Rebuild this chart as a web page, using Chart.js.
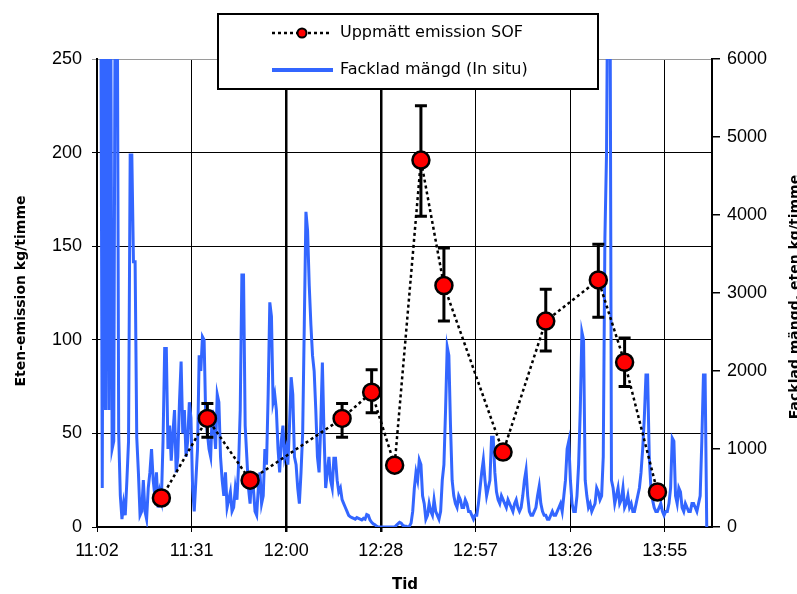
<!DOCTYPE html>
<html>
<head>
<meta charset="utf-8">
<script src="https://cdn.jsdelivr.net/npm/chart.js@4.4.1/dist/chart.umd.min.js"></script>
<style>
  html, body { margin: 0; padding: 0; background: #fff; }
  canvas { display: block; }
</style>
</head>
<body>
<canvas id="sofChart" width="797" height="594"></canvas>
<script>
// Uppmätt emission SOF (kg/timme, vänster axel) med felstaplar
const sofTimes  = ['11:22', '11:36', '11:49', '12:17', '12:26', '12:33', '12:41', '12:48', '13:06', '13:19', '13:35', '13:43', '13:53'];
const sofValues = [15.5, 58, 25, 58, 72, 33, 196, 129, 40, 110, 132, 88, 18.7];
const sofLow    = [null, 48, null, 48, 61, null, 166, 110, null, 94, 112, 75, null];
const sofHigh   = [null, 66, null, 66, 84, null, 225, 149, null, 127, 151, 101, null];

// Facklad mängd in situ (kg/timme, höger axel), ett värde per halvminut från 11:03
const flareStart = '11:03';
const flareStepMin = 0.5;
const flareValues = [
  8000, 8000, 500, 8000, 1500, 8000, 1500, 8000, 1000, 1100,
  8000, 8000, 1200, 400, 100, 300, 150, 600, 1100, 4770,
  4770, 3400, 3400, 1150, 700, 150, 200, 600, 200, 100,
  500, 700, 1000, 600, 400, 700, 250, 450, 350, 1100,
  2290, 2290, 1000, 1300, 850, 1200, 1500, 700, 900, 1600,
  2120, 1200, 1500, 900, 1100, 1600, 1400, 500, 200, 600,
  1000, 2200, 2000, 2440, 2400, 1400, 1200, 1000, 900, 1500,
  1300, 1000, 1700, 1600, 900, 600, 400, 700, 250, 350,
  450, 200, 250, 500, 350, 800, 1500, 3230, 3230, 1300,
  900, 500, 300, 700, 500, 200, 150, 500, 700, 300,
  400, 1000, 800, 1700, 2880, 2700, 1600, 1700, 1500, 1000,
  700, 1100, 1300, 900, 1000, 800, 1300, 1920, 1700, 900,
  800, 500, 300, 700, 1200, 2600, 4040, 3800, 3100, 2600,
  2200, 2000, 1500, 900, 700, 1300, 2110, 1200, 500, 700,
  900, 600, 500, 880, 880, 600, 450, 500, 350, 300,
  250, 200, 150, 130, 120, 110, 100, 120, 110, 100,
  90, 110, 100, 160, 150, 90, 60, 40, 30, 10,
  0, 0, 0, 0, 0, 0, 0, 0, 0, 0,
  0, 20, 40, 60, 50, 20, 10, 10, 0, 10,
  50, 200, 500, 700, 600, 860, 800, 400, 300, 100,
  150, 300, 200, 150, 350, 200, 150, 100, 200, 600,
  800, 1500, 2310, 2200, 1300, 600, 400, 300, 250, 400,
  350, 250, 250, 350, 300, 200, 200, 150, 100, 150,
  150, 300, 500, 700, 860, 600, 400, 500, 600, 1150,
  1150, 700, 450, 350, 300, 400, 350, 300, 250, 350,
  300, 250, 200, 300, 350, 250, 200, 250, 400, 600,
  730, 400, 200, 150, 150, 200, 250, 400, 520, 300,
  200, 150, 150, 100, 100, 150, 200, 150, 150, 200,
  250, 300, 200, 400, 600, 1000, 1100, 600, 300, 200,
  200, 400, 800, 1500, 2500, 2400, 600, 400, 250, 300,
  200, 250, 300, 500, 450, 350, 400, 900, 3700, 4800,
  8000, 8000, 600, 500, 300, 400, 500, 300, 350, 500,
  250, 300, 400, 250, 300, 200, 200, 300, 400, 500,
  700, 1000, 1400, 1950, 1950, 900, 500, 350, 250, 200,
  200, 250, 300, 200, 150, 200, 200, 300, 500, 1140,
  1100, 400, 300, 500, 450, 250, 200, 300, 250, 200,
  200, 300, 300, 250, 200, 300, 400, 1100, 1950, 1950,
  0
];

// Tidsaxel: start 11:02:24, huvudsteg 28,8 min
const xAxisStart = 662.4;
const xAxisEnd = 849.6;
const xMajorStep = 28.8;
const xTickLabels = ['11:02', '11:31', '12:00', '12:28', '12:57', '13:26', '13:55'];
const leftMax = 250, leftStep = 50;
const rightMax = 6000, rightStep = 1000;

function toMin(t) {
  const [h, m] = t.split(':').map(Number);
  return h * 60 + m;
}

const sofPoints = sofTimes.map((t, i) => ({ x: toMin(t), y: sofValues[i] }));
const flarePoints = flareValues.map((v, i) => ({ x: toMin(flareStart) + i * flareStepMin, y: v }));

const tickFont = { family: 'Liberation Sans, Arial, sans-serif', size: 18 };
const labelFont = 'DejaVu Sans, sans-serif';

// felstaplar, legend och axeltitlar
const decor = {
  id: 'decor',
  beforeDatasetDraw(chart, args) {
    if (args.index !== 0) return;
    const { ctx, scales: { x, y } } = chart;
    ctx.save();
    ctx.strokeStyle = '#000';
    ctx.lineWidth = 3;
    sofTimes.forEach((t, i) => {
      if (sofLow[i] == null) return;
      const px = x.getPixelForValue(toMin(t));
      const lo = y.getPixelForValue(sofLow[i]);
      const hi = y.getPixelForValue(sofHigh[i]);
      ctx.beginPath();
      ctx.moveTo(px, lo); ctx.lineTo(px, hi);
      ctx.moveTo(px - 6, lo); ctx.lineTo(px + 6, lo);
      ctx.moveTo(px - 6, hi); ctx.lineTo(px + 6, hi);
      ctx.stroke();
    });
    ctx.restore();
  },
  afterDraw(chart) {
    const { ctx } = chart;
    ctx.save();

    // axeltitlar
    ctx.fillStyle = '#000';
    ctx.font = 'bold 14px ' + labelFont;
    ctx.textAlign = 'center';
    ctx.textBaseline = 'middle';
    ctx.save();
    ctx.translate(21, 291);
    ctx.rotate(-Math.PI / 2);
    ctx.fillText('Eten-emission kg/timme', 0, 0);
    ctx.restore();
    ctx.save();
    ctx.translate(795, 297);
    ctx.rotate(-Math.PI / 2);
    ctx.fillText('Facklad mängd, eten kg/timme', 0, 0);
    ctx.restore();
    ctx.font = 'bold 15px ' + labelFont;
    ctx.fillText('Tid', 405, 585);

    // legend
    ctx.fillStyle = '#fff';
    ctx.fillRect(218, 14, 380, 75);
    ctx.strokeStyle = '#000';
    ctx.lineWidth = 2;
    ctx.strokeRect(218, 14, 380, 75);

    ctx.beginPath();
    ctx.setLineDash([3, 3]);
    ctx.lineWidth = 2.5;
    ctx.moveTo(272, 33); ctx.lineTo(332, 33);
    ctx.stroke();
    ctx.setLineDash([]);
    ctx.beginPath();
    ctx.arc(302, 33, 4.5, 0, Math.PI * 2);
    ctx.fillStyle = '#ff0000';
    ctx.fill();
    ctx.lineWidth = 2;
    ctx.stroke();

    ctx.beginPath();
    ctx.strokeStyle = '#3366ff';
    ctx.lineWidth = 4;
    ctx.moveTo(272, 70); ctx.lineTo(333, 70);
    ctx.stroke();

    ctx.fillStyle = '#000';
    ctx.font = '16px ' + labelFont;
    ctx.textAlign = 'left';
    ctx.fillText('Uppmätt emission SOF', 340, 33);
    ctx.fillText('Facklad mängd (In situ)', 340, 70);
    ctx.restore();
  }
};

new Chart(document.getElementById('sofChart').getContext('2d'), {
  type: 'line',
  data: {
    datasets: [{
      label: 'Uppmätt emission SOF',
      data: sofPoints,
      yAxisID: 'y',
      borderColor: '#000',
      borderWidth: 2.5,
      borderDash: [3, 3],
      pointRadius: 8.5,
      pointBackgroundColor: '#ff0000',
      pointBorderColor: '#000',
      pointBorderWidth: 2.5,
      tension: 0
    }, {
      label: 'Facklad mängd (In situ)',
      data: flarePoints,
      yAxisID: 'y1',
      borderColor: '#3366ff',
      borderWidth: 3,
      pointRadius: 0,
      tension: 0
    }]
  },
  options: {
    responsive: false,
    animation: false,
    devicePixelRatio: 1,
    layout: { padding: { top: 59, left: 0, right: 0, bottom: 0 } },
    plugins: { legend: { display: false }, tooltip: { enabled: false } },
    scales: {
      x: {
        type: 'linear',
        min: xAxisStart,
        max: xAxisEnd,
        afterBuildTicks(scale) {
          scale.ticks = xTickLabels.map((l, i) => ({ value: xAxisStart + i * xMajorStep }));
        },
        afterFit(scale) { scale.height = 67; },
        ticks: {
          callback: (v, i) => xTickLabels[i],
          font: tickFont,
          color: '#000',
          padding: 8,
          maxRotation: 0,
          autoSkip: false
        },
        grid: {
          color: '#000',
          lineWidth: ctx => (ctx.index === 2 || ctx.index === 3) ? 2.5 : 1,
          tickLength: 5
        },
        border: { color: '#000', width: 2 }
      },
      y: {
        position: 'left',
        min: 0,
        max: leftMax,
        afterFit(scale) { scale.width = 97; },
        ticks: { stepSize: leftStep, font: tickFont, color: '#000', padding: 10 },
        grid: {
          color: ctx => ctx.tick && ctx.tick.value === leftMax ? '#9a9a9a' : '#000',
          lineWidth: 1,
          tickLength: 5
        },
        border: { color: '#000', width: 2 }
      },
      y1: {
        position: 'right',
        min: 0,
        max: rightMax,
        afterFit(scale) { scale.width = 85; },
        ticks: { stepSize: rightStep, font: tickFont, color: '#000', padding: 7, callback: v => String(v) },
        grid: { drawOnChartArea: false, color: '#000', lineWidth: 1.5, tickLength: 8 },
        border: { color: '#000', width: 2 }
      }
    }
  },
  plugins: [decor]
});
</script>
</body>
</html>
